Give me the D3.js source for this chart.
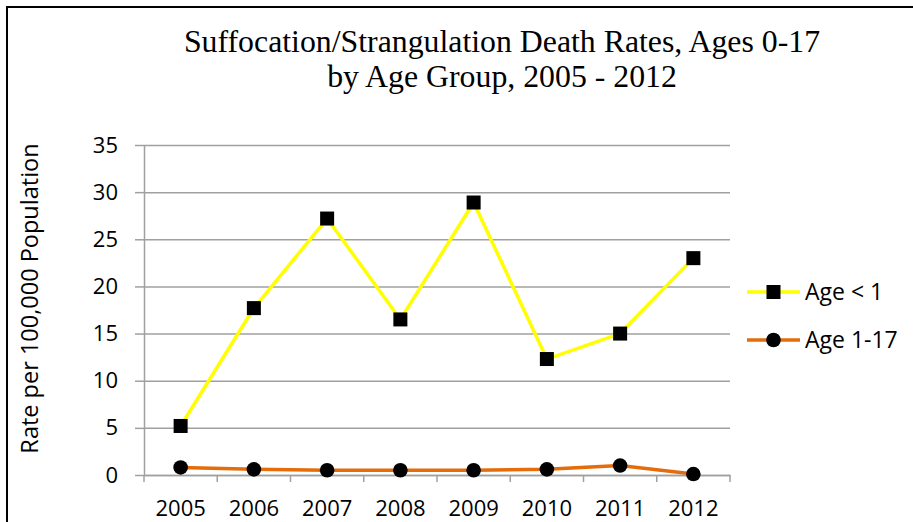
<!DOCTYPE html>
<html>
<head>
<meta charset="utf-8">
<script src="https://cdn.jsdelivr.net/npm/d3@7/dist/d3.min.js"></script>
<style>
  html, body { margin: 0; padding: 0; background: #fff; }
  svg { display: block; }
</style>
</head>
<body>
<svg id="chart" width="913" height="522"></svg>
<script>
const years = ["2005", "2006", "2007", "2008", "2009", "2010", "2011", "2012"];
const ageUnder1 = [5.2, 17.7, 27.2, 16.5, 28.9, 12.3, 15.0, 23.0];
const age1to17 = [0.8, 0.6, 0.5, 0.5, 0.5, 0.6, 1.0, 0.1];
const yTicks = [0, 5, 10, 15, 20, 25, 30, 35];
const seriesNames = ["Age < 1", "Age 1-17"];
const titleLines = ["Suffocation/Strangulation Death Rates, Ages 0-17", "by Age Group, 2005 - 2012"];
const yLabel = "Rate per 100,000 Population";

(function () {
const svg = d3.select("#chart");
const pLeft = 144, pRight = 730, pTop = 145, pBottom = 475;
const tickFont = "'Open Sans', 'DejaVu Sans', sans-serif";
const gridColor = "#a0a0a0";

// outer frame (extends past the image at right and bottom)
svg.append("rect")
  .attr("x", 7).attr("y", 7).attr("width", 960).attr("height", 560)
  .attr("fill", "none").attr("stroke", "#000").attr("stroke-width", 2);

const x = d3.scaleBand().domain(years).range([pLeft, pRight]).padding(0);
const y = d3.scaleLinear().domain([0, 35]).range([pBottom, pTop]);

// gridlines
const grid = svg.append("g").attr("transform", `translate(${pLeft},0)`)
  .call(d3.axisLeft(y).tickValues(yTicks).tickSize(-(pRight - pLeft)).tickFormat(""));
grid.select(".domain").remove();
grid.selectAll(".tick line").attr("stroke", gridColor).attr("stroke-width", 1.5);

// y axis
const yAxis = svg.append("g").attr("transform", `translate(${pLeft},0)`)
  .call(d3.axisLeft(y).tickValues(yTicks).tickSize(9).tickSizeOuter(0).tickPadding(17).tickFormat(d3.format("d")));
yAxis.select(".domain").attr("stroke", gridColor).attr("stroke-width", 1.5);
yAxis.selectAll(".tick line").attr("stroke", gridColor).attr("stroke-width", 1.5);
yAxis.selectAll(".tick text").attr("font-family", tickFont).attr("font-size", 22).attr("fill", "#000");

// x axis: ticks at band boundaries
const xAxis = svg.append("g").attr("transform", `translate(0,${pBottom})`)
  .call(d3.axisBottom(x).tickSize(0).tickPadding(25));
xAxis.select(".domain").attr("stroke", gridColor).attr("stroke-width", 1.5);
xAxis.selectAll(".tick text").attr("font-family", tickFont).attr("font-size", 22).attr("fill", "#000");
const bounds = years.map(d => x(d)).concat([x(years[years.length - 1]) + x.bandwidth()]);
svg.append("g").selectAll("line").data(bounds).join("line")
  .attr("x1", d => d).attr("x2", d => d)
  .attr("y1", pBottom).attr("y2", pBottom + 7)
  .attr("stroke", gridColor).attr("stroke-width", 1.5);

const cx = (d, i) => x(years[i]) + x.bandwidth() / 2;
const line = d3.line().x((d, i) => cx(d, i)).y(d => y(d));

// Age < 1 series
svg.append("path").datum(ageUnder1)
  .attr("d", line).attr("fill", "none").attr("stroke", "#ffff00").attr("stroke-width", 3.5);
svg.append("g").selectAll("rect").data(ageUnder1).join("rect")
  .attr("x", (d, i) => cx(d, i) - 7).attr("y", d => y(d) - 7)
  .attr("width", 14).attr("height", 14).attr("fill", "#000");

// Age 1-17 series
svg.append("path").datum(age1to17)
  .attr("d", line).attr("fill", "none").attr("stroke", "#e46c0a").attr("stroke-width", 3.5);
svg.append("g").selectAll("circle").data(age1to17).join("circle")
  .attr("cx", (d, i) => cx(d, i)).attr("cy", d => y(d))
  .attr("r", 7.3).attr("fill", "#000");

// legend
const legend = svg.append("g");
const legRows = [
  { name: seriesNames[0], color: "#ffff00", shape: "square", y: 292 },
  { name: seriesNames[1], color: "#e46c0a", shape: "circle", y: 340 }
];
legRows.forEach(r => {
  legend.append("line").attr("x1", 747).attr("x2", 800).attr("y1", r.y).attr("y2", r.y)
    .attr("stroke", r.color).attr("stroke-width", 3.5);
  if (r.shape === "square") {
    legend.append("rect").attr("x", 773.5 - 7).attr("y", r.y - 7).attr("width", 14).attr("height", 14).attr("fill", "#000");
  } else {
    legend.append("circle").attr("cx", 773.5).attr("cy", r.y).attr("r", 7.3).attr("fill", "#000");
  }
  legend.append("text").attr("x", 805).attr("y", r.y + 8)
    .attr("font-family", tickFont).attr("font-size", 23).attr("fill", "#000").text(r.name);
});

// y label
svg.append("text")
  .attr("transform", `translate(38,298.5) rotate(-90)`)
  .attr("text-anchor", "middle")
  .attr("font-family", tickFont).attr("font-size", 23.5).attr("fill", "#000")
  .text(yLabel);

// title
svg.append("g").selectAll("text").data(titleLines).join("text")
  .attr("x", 502).attr("y", (d, i) => 52 + i * 35)
  .attr("text-anchor", "middle")
  .attr("font-family", "'Liberation Serif', 'Times New Roman', serif")
  .attr("font-size", 31.8).attr("fill", "#000")
  .text(d => d);
})();
</script>
</body>
</html>
